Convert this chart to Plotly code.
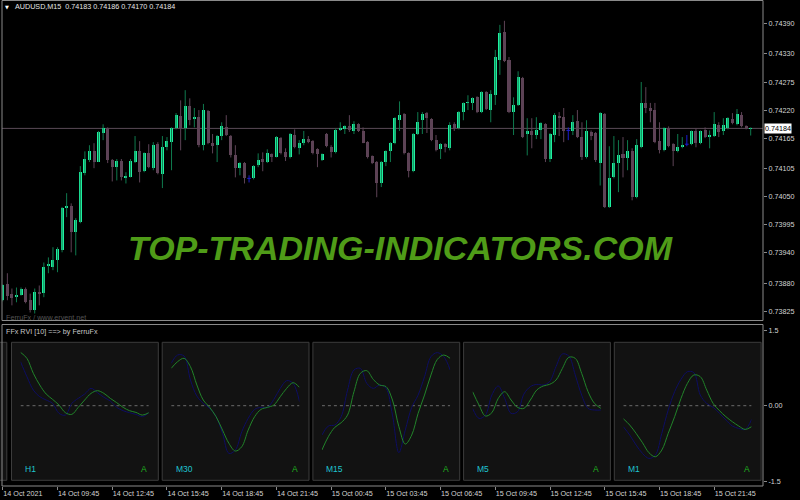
import plotly.graph_objects as go

# ---------------- DATA ----------------
opens = [0.73847,0.73878,0.73860,0.73853,0.73858,0.73870,0.73847,0.73827,0.73864,0.73862,
0.73915,0.73913,0.73925,0.73945,0.74028,0.74032,0.73980,0.74000,0.74096,0.74122,
0.74139,0.74118,0.74175,0.74184,0.74122,0.74108,0.74120,0.74088,0.74088,0.74118,
0.74139,0.74100,0.74135,0.74106,0.74153,0.74094,0.74147,0.74157,0.74184,0.74208,
0.74184,0.74228,0.74202,0.74206,0.74151,0.74218,0.74155,0.74151,0.74169,0.74186,
0.74169,0.74131,0.74106,0.74116,0.74086,0.74086,0.74112,0.74124,0.74118,0.74133,
0.74127,0.74165,0.74137,0.74127,0.74171,0.74145,0.74155,0.74163,0.74159,0.74143,
0.74122,0.74173,0.74147,0.74137,0.74180,0.74182,0.74188,0.74179,0.74192,0.74179,
0.74157,0.74129,0.74118,0.74076,0.74118,0.74139,0.74155,0.74200,0.74212,0.74135,
0.74100,0.74173,0.74200,0.74214,0.74202,0.74161,0.74143,0.74153,0.74145,0.74192,
0.74184,0.74216,0.74234,0.74234,0.74245,0.74216,0.74255,0.74220,0.74249,0.74318,
0.74373,0.74318,0.74216,0.74230,0.74283,0.74173,0.74179,0.74171,0.74180,0.74192,
0.74124,0.74171,0.74208,0.74206,0.74180,0.74179,0.74198,0.74167,0.74127,0.74177,
0.74175,0.74116,0.74212,0.74030,0.74088,0.74116,0.74133,0.74125,0.74139,0.74049,
0.74147,0.74234,0.74224,0.74220,0.74159,0.74141,0.74184,0.74153,0.74139,0.74147,
0.74153,0.74153,0.74179,0.74155,0.74180,0.74169,0.74169,0.74190,0.74179,0.74184,
0.74202,0.74192,0.74210,0.74188,0.74183]
highs = [0.73878,0.73900,0.73870,0.73872,0.73872,0.73872,0.73860,0.73870,0.73876,0.73921,
0.73931,0.73951,0.73951,0.74030,0.74057,0.74037,0.74008,0.74110,0.74139,0.74151,
0.74155,0.74179,0.74192,0.74186,0.74124,0.74124,0.74124,0.74098,0.74124,0.74169,
0.74159,0.74137,0.74153,0.74157,0.74157,0.74169,0.74167,0.74186,0.74214,0.74239,
0.74259,0.74243,0.74224,0.74220,0.74232,0.74220,0.74173,0.74171,0.74196,0.74210,
0.74171,0.74151,0.74118,0.74118,0.74092,0.74112,0.74135,0.74137,0.74143,0.74135,
0.74169,0.74167,0.74145,0.74175,0.74182,0.74161,0.74179,0.74169,0.74161,0.74145,
0.74135,0.74175,0.74151,0.74184,0.74196,0.74190,0.74210,0.74198,0.74194,0.74186,
0.74159,0.74131,0.74120,0.74120,0.74141,0.74157,0.74206,0.74237,0.74214,0.74137,
0.74175,0.74216,0.74216,0.74216,0.74204,0.74171,0.74155,0.74155,0.74196,0.74196,
0.74218,0.74235,0.74249,0.74245,0.74247,0.74257,0.74257,0.74259,0.74338,0.74387,
0.74395,0.74324,0.74245,0.74296,0.74285,0.74204,0.74204,0.74206,0.74196,0.74194,
0.74175,0.74214,0.74216,0.74224,0.74186,0.74210,0.74220,0.74196,0.74200,0.74180,
0.74177,0.74216,0.74214,0.74149,0.74169,0.74161,0.74167,0.74161,0.74145,0.74163,
0.74275,0.74265,0.74234,0.74234,0.74196,0.74186,0.74188,0.74155,0.74173,0.74167,
0.74171,0.74180,0.74184,0.74180,0.74186,0.74180,0.74216,0.74196,0.74204,0.74206,
0.74214,0.74222,0.74216,0.74190,0.74186]
lows = [0.73845,0.73847,0.73837,0.73843,0.73856,0.73841,0.73823,0.73821,0.73837,0.73853,
0.73900,0.73906,0.73902,0.73941,0.74010,0.73941,0.73935,0.73998,0.74092,0.74118,
0.74106,0.74118,0.74161,0.74116,0.74080,0.74082,0.74082,0.74076,0.74088,0.74116,
0.74078,0.74098,0.74106,0.74102,0.74094,0.74067,0.74141,0.74102,0.74182,0.74141,
0.74161,0.74190,0.74186,0.74147,0.74141,0.74153,0.74135,0.74118,0.74161,0.74169,
0.74127,0.74088,0.74092,0.74076,0.74078,0.74084,0.74108,0.74100,0.74116,0.74118,
0.74127,0.74133,0.74120,0.74125,0.74145,0.74133,0.74151,0.74155,0.74133,0.74108,
0.74120,0.74147,0.74127,0.74135,0.74179,0.74173,0.74177,0.74173,0.74177,0.74155,
0.74125,0.74114,0.74049,0.74069,0.74110,0.74118,0.74153,0.74179,0.74133,0.74088,
0.74098,0.74171,0.74173,0.74175,0.74159,0.74139,0.74124,0.74137,0.74141,0.74179,
0.74182,0.74200,0.74220,0.74220,0.74214,0.74214,0.74220,0.74196,0.74230,0.74289,
0.74314,0.74214,0.74171,0.74228,0.74165,0.74131,0.74145,0.74163,0.74163,0.74118,
0.74118,0.74157,0.74169,0.74157,0.74161,0.74171,0.74165,0.74122,0.74125,0.74161,
0.74118,0.74072,0.74028,0.74028,0.74086,0.74059,0.74088,0.74102,0.74043,0.74047,
0.74145,0.74214,0.74196,0.74155,0.74135,0.74139,0.74147,0.74110,0.74137,0.74145,
0.74149,0.74151,0.74147,0.74153,0.74165,0.74145,0.74167,0.74167,0.74171,0.74182,
0.74192,0.74190,0.74186,0.74182,0.74170]
closes = [0.73876,0.73856,0.73851,0.73858,0.73870,0.73843,0.73827,0.73864,0.73860,0.73913,
0.73919,0.73925,0.73947,0.74028,0.74032,0.73980,0.74004,0.74098,0.74124,0.74139,
0.74118,0.74177,0.74184,0.74122,0.74108,0.74120,0.74088,0.74090,0.74120,0.74139,
0.74098,0.74135,0.74108,0.74151,0.74096,0.74147,0.74159,0.74184,0.74210,0.74184,
0.74228,0.74200,0.74206,0.74151,0.74220,0.74155,0.74149,0.74169,0.74188,0.74171,
0.74131,0.74106,0.74116,0.74086,0.74086,0.74110,0.74122,0.74118,0.74135,0.74127,
0.74167,0.74135,0.74127,0.74173,0.74147,0.74155,0.74163,0.74157,0.74135,0.74133,
0.74133,0.74149,0.74137,0.74180,0.74184,0.74188,0.74180,0.74192,0.74179,0.74155,
0.74127,0.74116,0.74076,0.74118,0.74139,0.74155,0.74204,0.74210,0.74135,0.74100,
0.74173,0.74196,0.74212,0.74204,0.74161,0.74141,0.74153,0.74147,0.74190,0.74184,
0.74216,0.74234,0.74235,0.74243,0.74216,0.74255,0.74222,0.74251,0.74324,0.74371,
0.74316,0.74216,0.74230,0.74285,0.74167,0.74179,0.74171,0.74180,0.74194,0.74124,
0.74173,0.74210,0.74204,0.74179,0.74180,0.74196,0.74167,0.74127,0.74179,0.74169,
0.74122,0.74214,0.74030,0.74086,0.74116,0.74131,0.74125,0.74139,0.74049,0.74151,
0.74234,0.74224,0.74218,0.74157,0.74141,0.74184,0.74149,0.74139,0.74147,0.74151,
0.74153,0.74179,0.74155,0.74179,0.74167,0.74171,0.74192,0.74177,0.74190,0.74204,
0.74194,0.74212,0.74188,0.74184,0.74184]

price_ticks = [0.74390,0.74330,0.74275,0.74220,0.74165,0.74105,0.74050,0.73995,0.73940,0.73880,0.73825]
price_tick_text = ["0.74390","0.74330","0.74275","0.74220","0.74165","0.74105","0.74050","0.73995","0.73940","0.73880","0.73825"]

time_tick_bars = [0,12,24,36,48,60,72,84,96,108,120,132,144,156]
time_tick_text = ["14 Oct 2021","14 Oct 09:45","14 Oct 12:45","14 Oct 15:45","14 Oct 18:45",
                  "14 Oct 21:45","15 Oct 00:45","15 Oct 03:45","15 Oct 06:45","15 Oct 09:45",
                  "15 Oct 12:45","15 Oct 15:45","15 Oct 18:45","15 Oct 21:45"]

rvi_tf = ["H1","M30","M15","M5","M1"]
rvi_signal = [  # dark blue line
 [0.875,0.577,0.311,0.179,0.113,0.046,-0.152,-0.186,0.046,0.146,0.232,0.345,0.258,0.166,0.093,-0.033,-0.099,-0.139,-0.172,-0.219,-0.139],
 [0.842,1.007,0.987,0.510,0.192,0.046,-0.053,-0.219,-0.550,-0.948,-0.881,-0.517,-0.252,-0.073,-0.033,-0.033,0.126,0.345,0.497,0.444,0.080],
 [-0.583,-0.404,-0.384,-0.219,0.311,0.709,0.742,0.444,0.345,0.411,0.345,-0.186,-0.934,-0.484,-0.033,0.212,0.577,0.974,1.054,0.974,0.709],
 [-0.053,-0.252,-0.186,0.212,0.391,0.146,-0.152,-0.119,0.232,0.378,0.424,0.411,0.477,0.775,1.027,0.987,0.610,0.212,-0.053,-0.086,-0.086],
 [-0.417,-0.583,-0.782,-0.948,-1.047,-0.981,-0.550,-0.086,0.278,0.524,0.676,0.656,0.212,0.046,-0.033,-0.152,-0.285,-0.404,-0.451,-0.471,-0.272],
]
rvi_main = [  # green line
 [1.060,0.941,0.643,0.411,0.232,0.126,0.013,-0.139,-0.172,-0.033,0.113,0.245,0.298,0.245,0.146,0.060,-0.033,-0.099,-0.133,-0.186,-0.139],
 [0.742,0.875,0.941,0.775,0.411,0.113,-0.033,-0.219,-0.484,-0.749,-0.901,-0.815,-0.484,-0.219,-0.073,-0.033,0.013,0.179,0.345,0.457,0.364],
 [-0.881,-0.616,-0.431,-0.338,-0.186,0.278,0.643,0.696,0.524,0.411,0.378,0.113,-0.417,-0.762,-0.583,-0.152,0.212,0.610,0.921,1.007,0.941],
 [0.278,0.013,-0.205,-0.139,0.146,0.278,0.113,-0.033,-0.053,0.113,0.311,0.391,0.424,0.510,0.742,0.961,0.941,0.643,0.278,0.046,-0.053],
 [-0.258,-0.384,-0.550,-0.736,-0.934,-1.014,-0.881,-0.550,-0.219,0.146,0.444,0.610,0.577,0.311,0.046,-0.099,-0.219,-0.318,-0.404,-0.471,-0.417],
]

# ---------------- STYLE / LAYOUT ----------------
W, H = 800, 500
ML, MR, MT, MB = 2, 37, 0, 14
PW, PH = W - ML - MR, H - MT - MB
def fx(x): return (x - ML) / PW
def fy(y): return (PH + MT - y) / PH

BULL = "#1ef0a0"; BULL_WICK = "#0f7a4e"; BEAR = "#5d4356"; DOJI = "#1c1cd0"
GRID = "#8a8a8a"; TXT = "#d4d4d4"; FONT = "Liberation Sans"
SIG_C = "#0e0e62"; MAIN_C = "#22842a"

fig = go.Figure()

n = len(opens)
idx = list(range(n))
groups = {"bull": [], "bear": [], "doji": []}
for i in idx:
    if closes[i] > opens[i]:
        groups["bull"].append(i)
    elif closes[i] < opens[i]:
        groups["bear"].append(i)
    else:
        groups["doji"].append(i)

def wick_xy(ids):
    xs, ys = [], []
    for i in ids:
        xs += [i, i, None]; ys += [lows[i], highs[i], None]
    return xs, ys

for g, col in (("bull", BULL_WICK), ("bear", BEAR), ("doji", DOJI)):
    xs, ys = wick_xy(groups[g])
    fig.add_trace(go.Scatter(x=xs, y=ys, mode="lines", line=dict(color=col, width=1),
                             hoverinfo="skip", showlegend=False, xaxis="x", yaxis="y"))

MINB = 0.000016
for g, col in (("bull", BULL), ("bear", BEAR)):
    ids = groups[g]
    base = [min(opens[i], closes[i]) for i in ids]
    hgt = [max(abs(closes[i] - opens[i]), MINB) for i in ids]
    fig.add_trace(go.Bar(x=ids, y=hgt, base=base, width=0.66, marker=dict(color=col, line=dict(width=0)),
                         hoverinfo="skip", showlegend=False, xaxis="x", yaxis="y"))
# doji horizontal bars
xs, ys = [], []
for i in groups["doji"]:
    xs += [i - 0.4, i + 0.4, None]; ys += [opens[i], opens[i], None]
fig.add_trace(go.Scatter(x=xs, y=ys, mode="lines", line=dict(color=DOJI, width=1),
                         hoverinfo="skip", showlegend=False, xaxis="x", yaxis="y"))

# time axis host (sub-window subplot, carries the bar-time ticks)
fig.add_trace(go.Scatter(x=[], y=[], mode="lines", hoverinfo="skip", showlegend=False, xaxis="x2", yaxis="y2"))

# RVI boxes
BOX_L0, BOX_STEP, BOX_W = 11.5, 150.7, 146.8
BOX_T, BOX_B = 342.3, 480.3
shapes = []
annotations = []
# partial box at the left edge
shapes.append(dict(type="rect", xref="paper", yref="paper", x0=fx(-3), x1=fx(6.8), y0=fy(BOX_B), y1=fy(BOX_T),
                   fillcolor="#121212", line=dict(color="#3c3c3c", width=1), layer="below"))
for k, tf in enumerate(rvi_tf):
    left = BOX_L0 + BOX_STEP * k
    right = left + BOX_W
    shapes.append(dict(type="rect", xref="paper", yref="paper", x0=fx(left), x1=fx(right),
                       y0=fy(BOX_B), y1=fy(BOX_T), fillcolor="#121212",
                       line=dict(color="#3c3c3c", width=1), layer="below"))
    ax = "x%d" % (k + 3)
    m = len(rvi_main[k])
    fig.update_layout(**{"xaxis%d" % (k + 3): dict(domain=[fx(left + 9), fx(right - 9.5)], range=[0, m - 1],
                                                   anchor="y2", visible=False, fixedrange=True)})
    fig.add_trace(go.Scatter(x=[0, m - 1], y=[0, 0], mode="lines", line=dict(color="#6a6a6a", width=1, dash="dot"),
                             hoverinfo="skip", showlegend=False, xaxis=ax, yaxis="y2"))
    fig.add_trace(go.Scatter(x=list(range(m)), y=rvi_signal[k], mode="lines", line=dict(color=SIG_C, width=1, shape="spline"),
                             hoverinfo="skip", showlegend=False, xaxis=ax, yaxis="y2"))
    fig.add_trace(go.Scatter(x=list(range(m)), y=rvi_main[k], mode="lines", line=dict(color=MAIN_C, width=1, shape="spline"),
                             hoverinfo="skip", showlegend=False, xaxis=ax, yaxis="y2"))
    annotations.append(dict(x=fx(left + 11.5), y=fy(469), xref="paper", yref="paper", text=tf, showarrow=False,
                            xanchor="left", yanchor="middle", font=dict(family=FONT, size=8.5, color="#1fc4d0")))
    annotations.append(dict(x=fx(right - 14), y=fy(469), xref="paper", yref="paper", text="A", showarrow=False,
                            xanchor="center", yanchor="middle", font=dict(family=FONT, size=8.5, color="#1fb41f")))

# panel borders
shapes.append(dict(type="rect", xref="paper", yref="paper", x0=0, x1=1, y0=fy(320.5), y1=fy(0.5),
                   line=dict(color=GRID, width=1), fillcolor="rgba(0,0,0,0)", layer="above"))
shapes.append(dict(type="rect", xref="paper", yref="paper", x0=0, x1=1, y0=0, y1=fy(324.5),
                   line=dict(color=GRID, width=1), fillcolor="rgba(0,0,0,0)", layer="above"))
# bid line
shapes.append(dict(type="line", xref="paper", yref="y", x0=0, x1=1, y0=closes[-1], y1=closes[-1],
                   line=dict(color="#5a4a57", width=1), layer="below"))

# texts
annotations += [
    dict(x=fx(12.5), y=fy(7), xref="paper", yref="paper", xanchor="left", yanchor="middle", showarrow=False,
         text="AUDUSD,M15  %.5f %.5f %.5f %.5f" % (opens[-1], highs[-1], lows[-1], closes[-1]),
         font=dict(family=FONT, size=7.2, color="#e6e6e6")),
    dict(x=fx(6.5), y=fy(6.5), xref="paper", yref="paper", xanchor="center", yanchor="middle", showarrow=False,
         text="▼", font=dict(family="DejaVu Sans", size=5, color="#ffffff")),
    dict(x=fx(401), y=fy(248), xref="paper", yref="paper", xanchor="center", yanchor="middle", showarrow=False,
         text="<b><i>TOP-TRADING-INDICATORS.COM</i></b>", font=dict(family=FONT, size=34, color="#4f9c18")),
    dict(x=fx(4), y=fy(317), xref="paper", yref="paper", xanchor="left", yanchor="middle", showarrow=False,
         text="FerruFx / www.ervent.net", font=dict(family=FONT, size=7.2, color="#555555")),
    dict(x=fx(4), y=fy(331.5), xref="paper", yref="paper", xanchor="left", yanchor="middle", showarrow=False,
         text="FFx RVI [10] ==> by FerruFx", font=dict(family=FONT, size=7.2, color="#c8c8c8")),
    dict(x=fx(764), y=closes[-1], xref="paper", yref="y", xanchor="left", yanchor="middle", showarrow=False,
         text="%.5f" % closes[-1], bgcolor="#ffffff", borderpad=0,
         font=dict(family=FONT, size=7.2, color="#000000")),
]

P_TOP, P_BOT = 0.744358, 0.738073
X_RANGE = [-0.175, 166.7]

fig.update_layout(
    width=W, height=H, margin=dict(l=ML, r=MR, t=MT, b=MB, pad=0),
    paper_bgcolor="#000000", plot_bgcolor="rgba(0,0,0,0)",
    showlegend=False, barmode="overlay", bargap=0, hovermode=False,
    xaxis=dict(domain=[0, 1], range=X_RANGE, visible=False, anchor="y", fixedrange=True),
    yaxis=dict(domain=[fy(320.5), 1], range=[P_BOT, P_TOP], side="right", anchor="x",
               tickvals=price_ticks, ticktext=price_tick_text, ticks="outside", ticklen=3,
               tickcolor=GRID, tickfont=dict(family=FONT, size=7.2, color=TXT),
               showgrid=False, zeroline=False, showline=False, fixedrange=True),
    xaxis2=dict(domain=[0, 1], range=X_RANGE, anchor="y2", tickvals=time_tick_bars, ticktext=time_tick_text,
                ticks="outside", ticklen=3, tickcolor=GRID, ticklabelposition="outside right",
                ticklabeloverflow="allow",
                tickfont=dict(family=FONT, size=7.2, color=TXT), showgrid=False, zeroline=False,
                showline=False, fixedrange=True),
    yaxis2=dict(domain=[0, fy(324.5)], range=[-1.595, 1.613], side="right", anchor="x2",
                tickvals=[1.5, 0, -1.5], ticktext=["1.5", "0.00", "-1.5"], ticks="outside", ticklen=3,
                tickcolor=GRID, tickfont=dict(family=FONT, size=7.2, color=TXT),
                showgrid=False, zeroline=False, showline=False, fixedrange=True),
    shapes=shapes, annotations=annotations,
)

fig.write_html("out.html", config={"displayModeBar": False},
               post_script="document.body.style.margin='0px';document.body.style.overflow='hidden';")
